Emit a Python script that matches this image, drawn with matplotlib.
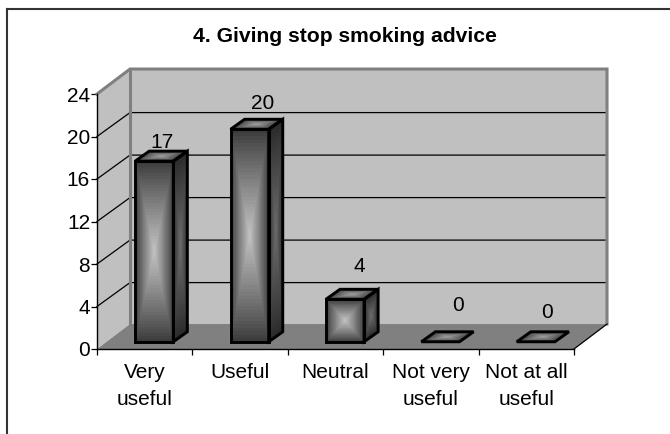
import matplotlib.pyplot as plt
import numpy as np

plt.rcParams["font.family"] = ["Liberation Sans", "DejaVu Sans"]
plt.rcParams["font.size"] = 15

categories = ["Very\nuseful", "Useful", "Neutral", "Not very\nuseful", "Not at all\nuseful"]
values = [17, 20, 4, 0, 0]
yticks = [0, 4, 8, 12, 16, 20, 24]
title = "4. Giving stop smoking advice"

# label nudges in pixels, the original labels sit a bit off the bars
label_dx = [8, 13, 14, 18, 11]
label_dy = [9, 16, 23, 26, 19]

wall_dx, wall_dy = 0.346, 2.35
grid_dy = 2.25
bar_w, bar_off, bar_base = 0.4, 0.1, 0.68
bar_dx, bar_dy = 0.147, 0.94


def face(ax, p0, e1, e2, edge, center):
    # rectangular "from centre" gradient on a parallelogram
    u, v = np.meshgrid(np.linspace(0, 1, 61), np.linspace(0, 1, 61))
    X = p0[0] + u*e1[0] + v*e2[0]
    Y = p0[1] + u*e1[1] + v*e2[1]
    uc, vc = (u[:-1, :-1] + u[1:, 1:])/2, (v[:-1, :-1] + v[1:, 1:])/2
    d = np.maximum(np.abs(2*uc-1), np.abs(2*vc-1))
    C = edge + (center-edge)*(1-d)**0.9
    ax.pcolormesh(X, Y, C, cmap="gray", vmin=0, vmax=1, shading="flat",
                  zorder=4, clip_on=False, edgecolors="none", linewidth=0)
    ax.fill([p0[0], p0[0]+e1[0], p0[0]+e1[0]+e2[0], p0[0]+e2[0]],
            [p0[1], p0[1]+e1[1], p0[1]+e1[1]+e2[1], p0[1]+e2[1]],
            fc="none", ec="black", lw=2.1, zorder=5, clip_on=False, joinstyle="miter")


fig = plt.figure(figsize=(6.7, 4.34), dpi=100)
ax = fig.add_axes([97/670, 1-349/434, 477/670, 255/434])
ax.set_xlim(0, 5)
ax.set_ylim(0, 24)

# outer chart frame, only top and left fall inside the picture
fig.add_artist(plt.Line2D([7/670, 7/670], [0, 1-9/434], color="#333333", lw=1.5))
fig.add_artist(plt.Line2D([7/670, 1], [1-9/434, 1-9/434], color="#333333", lw=1.5))

# walls and floor
ax.fill([0, wall_dx, wall_dx, 0], [0, wall_dy, 24+wall_dy, 24], fc="#c0c0c0",
        ec="none", clip_on=False, zorder=1)
ax.fill([wall_dx, 5+wall_dx, 5+wall_dx, wall_dx], [wall_dy, wall_dy, 24+wall_dy, 24+wall_dy],
        fc="#c0c0c0", ec="none", clip_on=False, zorder=1)
ax.fill([0, 5, 5+wall_dx, wall_dx], [0, 0, wall_dy, wall_dy], fc="#808080",
        ec="none", clip_on=False, zorder=1)

for t in yticks[1:-1]:
    ax.plot([0, wall_dx, 5+wall_dx], [t, t+grid_dy, t+grid_dy], color="black", lw=0.9,
            clip_on=False, zorder=2)
ax.plot([0, wall_dx, 5+wall_dx, 5+wall_dx], [24, 24+wall_dy, 24+wall_dy, wall_dy],
        color="#808080", lw=2.2, clip_on=False, zorder=3, solid_joinstyle="miter")
ax.plot([wall_dx, wall_dx], [wall_dy, 24+wall_dy], color="#808080", lw=2.2,
        clip_on=False, zorder=3)
ax.plot([5, 5+wall_dx], [0, wall_dy], color="black", lw=0.9, clip_on=False, zorder=3)

# bars
for i, val in enumerate(values):
    x0 = i + 0.5 + bar_off - bar_w/2
    if val > 0:
        face(ax, (x0+bar_w, bar_base), (bar_dx, bar_dy), (0, val), 0.16, 0.42)
        face(ax, (x0, bar_base), (bar_w, 0), (0, val), 0.22, 0.76)
    face(ax, (x0, bar_base+val), (bar_w, 0), (bar_dx, bar_dy), 0.25, 0.62)
    ax.annotate(str(val), (x0+bar_w/2, bar_base+val+bar_dy), xytext=(label_dx[i]*0.72, label_dy[i]*0.72),
                textcoords="offset points", ha="center", va="center", zorder=6,
                annotation_clip=False)

for s in ("top", "right"):
    ax.spines[s].set_visible(False)
for s in ("left", "bottom"):
    ax.spines[s].set_zorder(7)
    ax.spines[s].set_linewidth(1.0)
ax.patch.set_visible(False)

ax.set_yticks(yticks)
ax.set_xticks(np.arange(6))
ax.set_xticklabels([])
ax.set_xticks(np.arange(5)+0.5, categories, minor=True, linespacing=1.52)
ax.tick_params(axis="x", which="major", length=4, width=0.9)
ax.tick_params(axis="x", which="minor", length=0, pad=10)
ax.tick_params(axis="y", length=4, width=0.9, pad=1)

fig.text(345/670, 1-36/434, title, ha="center", va="center", fontsize=15.2, fontweight="bold")

fig.savefig("out.png", dpi=100)
